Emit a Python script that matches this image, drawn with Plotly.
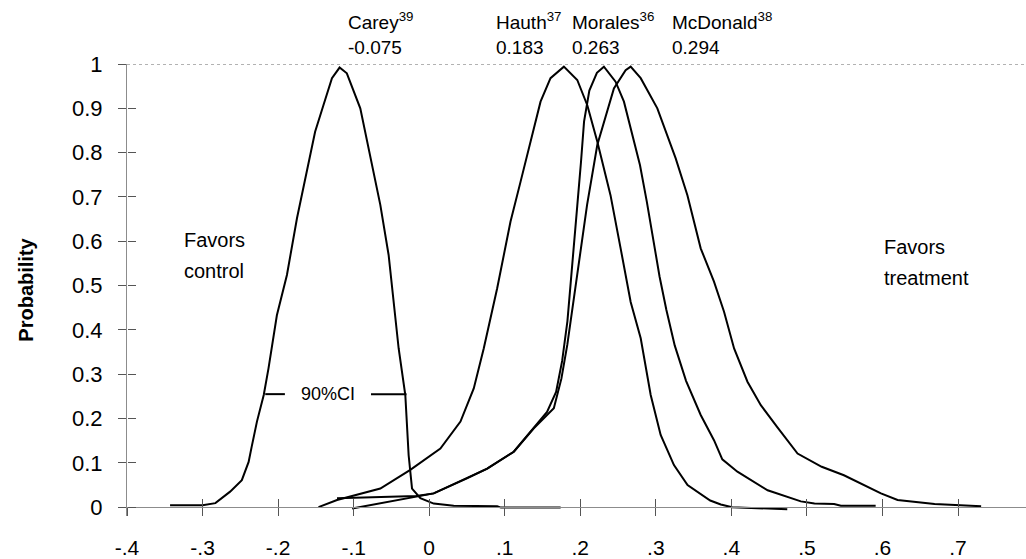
import plotly.graph_objects as go

# ---------------- data ----------------
carey_x = [-0.343, -0.300, -0.283, -0.2635, -0.248, -0.239, -0.235, -0.228, -0.219, -0.2127,
           -0.2016, -0.1883, -0.175, -0.162, -0.151, -0.140, -0.1287, -0.1186, -0.109, -0.0912,
           -0.078, -0.0647, -0.0537, -0.047, -0.0404, -0.0316, -0.0272, -0.0227, -0.0117, 0.006,
           0.0325, 0.090, 0.095, 0.174]
carey_y = [0.004, 0.004, 0.009, 0.035, 0.061, 0.102, 0.136, 0.193, 0.253, 0.313,
           0.433, 0.524, 0.652, 0.757, 0.847, 0.907, 0.968, 0.992, 0.979, 0.900,
           0.795, 0.682, 0.569, 0.456, 0.358, 0.253, 0.117, 0.042, 0.020, 0.008,
           0.003, 0.002, -0.001, -0.001]

hauth_x = [-0.1465, -0.122, -0.0647, -0.025, 0.0148, 0.0414, 0.059, 0.0722, 0.090, 0.1076,
           0.1209, 0.1341, 0.1474, 0.1606, 0.1783, 0.196, 0.2093, 0.2225, 0.240, 0.2534,
           0.2667, 0.280, 0.2932, 0.3064, 0.324, 0.342, 0.359, 0.372, 0.386, 0.401, 0.474]
hauth_y = [0.0, 0.016, 0.042, 0.084, 0.132, 0.193, 0.268, 0.358, 0.494, 0.644,
           0.734, 0.825, 0.915, 0.968, 0.994, 0.964, 0.907, 0.825, 0.704, 0.584,
           0.463, 0.381, 0.253, 0.163, 0.095, 0.050, 0.030, 0.015, 0.006, 0.0, -0.005]

morales_x = [-0.122, -0.017, 0.006, 0.050, 0.0768, 0.112, 0.1385, 0.156, 0.168, 0.176,
             0.183, 0.190, 0.196, 0.201, 0.205, 0.212, 0.222, 0.2313, 0.2467, 0.2578,
             0.269, 0.279, 0.288, 0.297, 0.305, 0.314, 0.325, 0.340, 0.3594, 0.377,
             0.388, 0.408, 0.448, 0.492, 0.510, 0.536, 0.545, 0.591]
morales_y = [0.020, 0.025, 0.031, 0.065, 0.087, 0.125, 0.178, 0.215, 0.260, 0.330,
             0.420, 0.550, 0.680, 0.780, 0.870, 0.940, 0.980, 0.994, 0.960, 0.915,
             0.840, 0.772, 0.690, 0.600, 0.520, 0.445, 0.365, 0.285, 0.208, 0.151,
             0.108, 0.080, 0.038, 0.013, 0.008, 0.007, 0.003, 0.003]

mcdonald_x = [-0.102, -0.017, 0.006, 0.050, 0.0768, 0.112, 0.1385, 0.165, 0.175, 0.1828,
              0.196, 0.209, 0.2225, 0.2313, 0.2445, 0.260, 0.2667, 0.280, 0.302, 0.3263,
              0.3418, 0.3594, 0.377, 0.3903, 0.4036, 0.4213, 0.439, 0.461, 0.4876, 0.5196,
              0.549, 0.598, 0.620, 0.669, 0.7306]
mcdonald_y = [-0.003, 0.025, 0.031, 0.065, 0.087, 0.125, 0.178, 0.223, 0.290, 0.366,
              0.531, 0.682, 0.817, 0.870, 0.945, 0.986, 0.994, 0.968, 0.900, 0.787,
              0.704, 0.584, 0.509, 0.441, 0.358, 0.283, 0.230, 0.180, 0.121, 0.091,
              0.072, 0.031, 0.016, 0.007, 0.002]

study_names = ["Carey<sup>39</sup>", "Hauth<sup>37</sup>", "Morales<sup>36</sup>", "McDonald<sup>38</sup>"]
study_values = ["-0.075", "0.183", "0.263", "0.294"]

x_tickvals = [-0.4, -0.3, -0.2, -0.1, 0, 0.1, 0.2, 0.3, 0.4, 0.5, 0.6, 0.7]
x_ticktext = ["-.4", "-.3", "-.2", "-.1", "0", ".1", ".2", ".3", ".4", ".5", ".6", ".7"]
y_tickvals = [0, 0.1, 0.2, 0.3, 0.4, 0.5, 0.6, 0.7, 0.8, 0.9, 1]
y_ticktext = ["0", "0.1", "0.2", "0.3", "0.4", "0.5", "0.6", "0.7", "0.8", "0.9", "1"]

ci_level = 0.255
carey_ci = [-0.217, -0.030]
ci_text_gap = [-0.191, -0.077]

# ---------------- layout helpers ----------------
W, H = 1026, 559
L, R, T, B = 127, 0, 64, 43
X_RANGE = [-0.4, 0.79]
Y_RANGE = [-0.02, 1.0]
axis_pos = (0 - Y_RANGE[0]) / (Y_RANGE[1] - Y_RANGE[0])


def px_x(px):
    return (px - L) / (W - L - R)


def px_y(py):
    return (H - B - py) / (H - T - B)


FONT = "Arial, 'Liberation Sans', Helvetica, sans-serif"
line_style = dict(color="black", width=2)

fig = go.Figure()
for xs, ys, nm in [(carey_x, carey_y, "Carey"), (hauth_x, hauth_y, "Hauth"),
                   (morales_x, morales_y, "Morales"), (mcdonald_x, mcdonald_y, "McDonald")]:
    fig.add_trace(go.Scatter(x=xs, y=ys, mode="lines", line=line_style, name=nm,
                             showlegend=False, hoverinfo="skip"))

# empty trace so the overlay axes (inner half of crossing ticks) are drawn
fig.add_trace(go.Scatter(x=[None], y=[None], xaxis="x2", yaxis="y2", showlegend=False,
                         hoverinfo="skip"))

axis_grey = "#8c8c8c"
tick_grey = "#555555"

fig.update_layout(
    width=W, height=H, autosize=False,
    margin=dict(l=L, r=R, t=T, b=B, pad=0),
    paper_bgcolor="white", plot_bgcolor="white",
    font=dict(family=FONT, color="black"),
    xaxis=dict(range=X_RANGE, anchor="free", position=axis_pos,
               tickvals=x_tickvals, ticktext=x_ticktext,
               ticks="outside", ticklen=8, tickcolor=tick_grey, tickwidth=1,
               showline=True, linecolor=axis_grey, linewidth=1,
               showgrid=False, zeroline=False, tickfont=dict(size=21),
               ticklabelstandoff=14),
    yaxis=dict(range=Y_RANGE, anchor="x", tickvals=y_tickvals, ticktext=y_ticktext,
               ticks="outside", ticklen=8, tickcolor=tick_grey, tickwidth=1,
               showline=True, linecolor=axis_grey, linewidth=1,
               showgrid=False, zeroline=False, tickfont=dict(size=22),
               ticklabelstandoff=11,
               title=dict(text="<b>Probability</b>", font=dict(size=20), standoff=33)),
    xaxis2=dict(range=X_RANGE, overlaying="x", anchor="free", position=axis_pos,
                tickvals=x_tickvals, ticks="inside", ticklen=8, tickcolor=tick_grey,
                tickwidth=1, showticklabels=False, showline=False, showgrid=False,
                zeroline=False),
    yaxis2=dict(range=Y_RANGE, overlaying="y", anchor="free", position=0, side="left",
                tickvals=y_tickvals, ticks="inside", ticklen=8, tickcolor=tick_grey,
                tickwidth=1, showticklabels=False, showline=False, showgrid=False,
                zeroline=False),
)

# dotted line at probability 1
fig.add_shape(type="line", xref="paper", yref="y", x0=0, x1=1, y0=1, y1=1,
              line=dict(color="#666666", width=1, dash="dot"))

# study labels above the chart
name_px = [346, 494, 570, 670]
for nm, val, px in zip(study_names, study_values, name_px):
    fig.add_annotation(x=px_x(px), y=px_y(21), xref="paper", yref="paper", text=nm,
                       showarrow=False, xanchor="left", yanchor="middle",
                       font=dict(size=19))
    fig.add_annotation(x=px_x(px), y=px_y(48), xref="paper", yref="paper", text=val,
                       showarrow=False, xanchor="left", yanchor="middle",
                       font=dict(size=19))

# favors labels
for txt, px, py in [("Favors", 182, 240), ("control", 182, 271),
                    ("Favors", 882, 247), ("treatment", 882, 278)]:
    fig.add_annotation(x=px_x(px), y=px_y(py), xref="paper", yref="paper", text=txt,
                       showarrow=False, xanchor="left", yanchor="middle",
                       font=dict(size=20))

# 90% CI marker for Carey
fig.add_shape(type="line", xref="x", yref="y", x0=carey_ci[0], x1=ci_text_gap[0],
              y0=ci_level, y1=ci_level, line=dict(color="black", width=2))
fig.add_shape(type="line", xref="x", yref="y", x0=ci_text_gap[1], x1=carey_ci[1],
              y0=ci_level, y1=ci_level, line=dict(color="black", width=2))
fig.add_annotation(x=sum(ci_text_gap) / 2, y=ci_level, xref="x", yref="y", text="90%CI",
                   showarrow=False, xanchor="center", yanchor="middle",
                   font=dict(size=18))

fig.write_html("out.html", config={"displayModeBar": False},
               post_script="document.body.style.margin='0';")
